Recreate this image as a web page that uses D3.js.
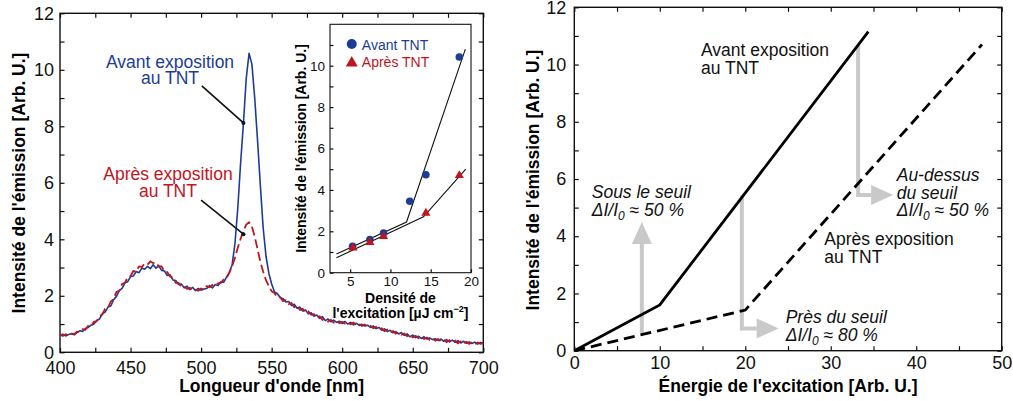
<!DOCTYPE html>
<html><head><meta charset="utf-8">
<script src="https://cdn.jsdelivr.net/npm/d3@7"></script>
<style>
body{margin:0;background:#fff}
svg{display:block}
text{font-family:"Liberation Sans",Arial,Helvetica,sans-serif}
</style></head>
<body><svg width="1013" height="401"></svg>
<script>
// ---------------- DATA ----------------
// Left panel: emission spectra, 400..700 nm every 2 nm
const wavelengths = d3.range(400, 701, 2);
const avantSpectrum = [
  0.60,0.64,0.58,0.63,0.66,0.62,0.70,0.76,0.74,0.84, // 400-418
  0.88,0.96,1.00,1.12,1.18,1.36,1.42,1.60,1.64,1.86, // 420-438
  1.98,2.18,2.26,2.46,2.50,2.68,2.70,2.86,2.82,2.98, // 440-458
  2.94,3.04,2.96,3.10,2.98,3.06,2.90,2.88,2.72,2.74, // 460-478
  2.56,2.54,2.40,2.42,2.28,2.34,2.22,2.30,2.18,2.26, // 480-498
  2.20,2.24,2.26,2.36,2.28,2.40,2.36,2.50,2.48,2.66, // 500-518
  2.82,3.10,3.85,5.10,6.70,8.10,9.70,10.58,10.20,9.00, // 520-538
  7.50,5.90,4.40,3.40,2.80,2.42,2.14,2.08,1.94,1.90, // 540-558
  1.78,1.80,1.66,1.70,1.56,1.60,1.46,1.50,1.36,1.40, // 560-578
  1.28,1.32,1.20,1.26,1.12,1.18,1.08,1.14,1.06,1.10, // 580-598
  1.02,1.09,1.00,1.06,0.97,1.03,0.95,0.99,0.93,0.96, // 600-618
  0.88,0.93,0.84,0.88,0.78,0.83,0.74,0.78,0.69,0.73, // 620-638
  0.65,0.70,0.60,0.65,0.55,0.61,0.52,0.57,0.49,0.55, // 640-658
  0.47,0.51,0.45,0.48,0.42,0.47,0.39,0.45,0.37,0.43, // 660-678
  0.35,0.41,0.33,0.39,0.32,0.37,0.31,0.36,0.29,0.35, // 680-698
  0.32                                               // 700
];
const apresSpectrum = [
  0.63,0.58,0.64,0.60,0.67,0.64,0.73,0.71,0.82,0.80,
  0.94,0.92,1.08,1.10,1.28,1.34,1.54,1.58,1.80,1.88,
  2.14,2.18,2.42,2.46,2.66,2.70,2.88,2.86,3.04,3.02,
  3.14,3.10,3.22,3.16,3.18,3.04,3.04,2.86,2.84,2.68,
  2.64,2.46,2.46,2.32,2.34,2.24,2.28,2.20,2.22,2.18,
  2.26,2.22,2.34,2.30,2.38,2.36,2.44,2.46,2.58,2.62,
  2.82,3.05,3.35,3.70,4.02,4.30,4.52,4.60,4.45,4.10,
  3.65,3.20,2.85,2.55,2.35,2.16,2.10,1.94,1.95,1.82,
  1.84,1.71,1.74,1.60,1.63,1.50,1.54,1.41,1.45,1.33,
  1.35,1.23,1.27,1.15,1.20,1.09,1.15,1.05,1.11,1.03,
  1.08,1.01,1.07,0.99,1.05,0.96,1.01,0.93,0.98,0.90,
  0.94,0.85,0.90,0.80,0.85,0.75,0.80,0.70,0.75,0.66,
  0.71,0.62,0.66,0.57,0.62,0.53,0.58,0.50,0.56,0.47,
  0.52,0.44,0.49,0.41,0.47,0.39,0.45,0.36,0.43,0.34,
  0.41,0.32,0.39,0.31,0.37,0.30,0.36,0.29,0.35,0.30,
  0.32
];
const leftXTicks = [400,450,500,550,600,650,700];
const leftXMinor = d3.range(400, 701, 25);
const leftYTicks = [0,2,4,6,8,10,12];
const leftYMinor = d3.range(0, 13, 1);

// Inset: intensity vs excitation density
const insetAvantX = [5.3, 7.45, 9.15, 12.4, 14.4, 18.55];
const insetAvantY = [1.27, 1.6, 1.92, 3.45, 4.73, 10.42];
const insetApresX = [5.35, 7.45, 9.15, 14.4, 18.55];
const insetApresY = [1.2, 1.47, 1.76, 2.88, 4.7];
const fitAvantX = [3.3, 12.0, 19.3];
const fitAvantY = [0.9, 2.45, 10.8];
const fitApresX = [3.3, 14.1, 19.35];
const fitApresY = [0.72, 2.7, 5.0];
const insetXTicks = [5,10,15,20];
const insetYTicks = [0,2,4,6,8,10];
const insetYMinor = d3.range(0, 12, 1);

// Right panel: schematic
const schemaAvantX = [0, 10, 34.4];
const schemaAvantY = [0, 1.6, 11.15];
const schemaApresX = [0, 20, 47.7];
const schemaApresY = [0, 1.42, 10.7];
const rightXTicks = [0,10,20,30,40,50];
const rightXMinor = d3.range(0, 51, 5);
const rightYTicks = [0,2,4,6,8,10,12];
const rightYMinor = d3.range(0, 13, 1);

// ---------------- SETUP ----------------
const svg = d3.select("svg");
const BLUE = "#1d3d95", RED = "#c0141e", GREY = "#c9c9c9";

const xL = d3.scaleLinear([400,700],[60,483.3]);
const yL = d3.scaleLinear([0,12],[352.3,13.3]);
const xI = d3.scaleLinear([2.5,20],[330,471]);
const yI = d3.scaleLinear([0,12],[272.7,24.3]);
const xR = d3.scaleLinear([0,50],[574.3,1001.7]);
const yR = d3.scaleLinear([0,12],[350.7,7.3]);

function axesFrame(x, y, o){
  const [xa,xb] = x.range(), [yb,ya] = y.range();
  const g = svg.append("g");
  const fmtX = d => o.xMajor.includes(d) ? d : "";
  const fmtY = d => o.yMajor.includes(d) ? d : "";
  const b = g.append("g").attr("transform",`translate(0,${yb})`)
    .call(d3.axisBottom(x).tickValues(o.xMinor).tickSizeInner(-o.tick).tickSizeOuter(0).tickPadding(o.xPad).tickFormat(fmtX));
  const l = g.append("g").attr("transform",`translate(${xa},0)`)
    .call(d3.axisLeft(y).tickValues(o.yMinor).tickSizeInner(-o.tick).tickSizeOuter(0).tickPadding(o.yPad).tickFormat(fmtY));
  const parts=[b,l];
  if(o.mirror){
    parts.push(g.append("g").attr("transform",`translate(0,${ya})`)
      .call(d3.axisTop(x).tickValues(o.xMinor).tickSizeInner(-o.tick).tickSizeOuter(0).tickFormat("")));
    parts.push(g.append("g").attr("transform",`translate(${xb},0)`)
      .call(d3.axisRight(y).tickValues(o.yMinor).tickSizeInner(-o.tick).tickSizeOuter(0).tickFormat("")));
  }
  parts.forEach(p=>{
    p.select(".domain").remove();
    p.selectAll(".tick line").attr("stroke","#111").attr("stroke-width",1.2);
    p.selectAll(".tick text").attr("fill","#111").style("font-size",o.font+"px")
      .style("font-family",'"Liberation Sans",Arial,sans-serif');
  });
  g.append("rect").attr("x",xa).attr("y",ya).attr("width",xb-xa).attr("height",yb-ya)
    .attr("fill","none").attr("stroke","#111").attr("stroke-width",o.frame);
  return g;
}

// ---------------- LEFT PANEL ----------------
axesFrame(xL, yL, {xMajor:leftXTicks,xMinor:leftXMinor,yMajor:leftYTicks,yMinor:leftYMinor,
  tick:4.5,xPad:9,yPad:6,font:18,frame:1.4,mirror:true});

const specLine = (vals) => d3.line().x((d,i)=>xL(wavelengths[i])).y(d=>yL(d))(vals);
svg.append("path").attr("d",specLine(avantSpectrum)).attr("fill","none")
  .attr("stroke",BLUE).attr("stroke-width",1.6).attr("stroke-linejoin","round");
svg.append("path").attr("d",specLine(apresSpectrum)).attr("fill","none")
  .attr("stroke",RED).attr("stroke-width",1.8).attr("stroke-dasharray","9,4");

// annotations
const leftNotes = [
  {lines:["Avant exposition","au TNT"], x:478, y:[10.08,9.49], color:BLUE,
   arrow:{from:[500.5,9.43], to:[530,8.12]}},
  {lines:["Après exposition","au TNT"], x:476.5, y:[6.09,5.48], color:RED,
   arrow:{from:[500,5.39], to:[530,4.18]}}
];
leftNotes.forEach(n=>{
  n.lines.forEach((t,i)=>svg.append("text").attr("x",xL(n.x)).attr("y",yL(n.y[i]))
    .attr("text-anchor","middle").attr("fill",n.color).style("font-size","17.5px").text(t));
  svg.append("line").attr("x1",xL(n.arrow.from[0])).attr("y1",yL(n.arrow.from[1]))
    .attr("x2",xL(n.arrow.to[0])).attr("y2",yL(n.arrow.to[1]))
    .attr("stroke","#111").attr("stroke-width",1.6);
  svg.append("circle").attr("cx",xL(n.arrow.to[0])).attr("cy",yL(n.arrow.to[1])).attr("r",2).attr("fill","#111");
});

svg.append("text").attr("x",(xL.range()[0]+xL.range()[1])/2).attr("y",392)
  .attr("text-anchor","middle").style("font-size","17.5px").style("font-weight","bold")
  .text("Longueur d'onde [nm]");
svg.append("text").attr("transform","translate(25,183) rotate(-90)")
  .attr("text-anchor","middle").style("font-size","17.5px").style("font-weight","bold")
  .text("Intensité de l'émission [Arb. U.]");

// ---------------- INSET ----------------
svg.append("rect").attr("x",xI.range()[0]).attr("y",yI.range()[1])
  .attr("width",xI.range()[1]-xI.range()[0]).attr("height",yI.range()[0]-yI.range()[1]).attr("fill","#fff");
axesFrame(xI, yI, {xMajor:insetXTicks,xMinor:insetXTicks,yMajor:insetYTicks,yMinor:insetYMinor,
  tick:3.5,xPad:4,yPad:5,font:13.5,frame:1.1,mirror:false});

const fitLine = (xs,ys) => d3.line().x((d,i)=>xI(xs[i])).y((d,i)=>yI(ys[i]))(xs);
svg.append("path").attr("d",fitLine(fitAvantX,fitAvantY)).attr("fill","none").attr("stroke","#111").attr("stroke-width",1.1);
svg.append("path").attr("d",fitLine(fitApresX,fitApresY)).attr("fill","none").attr("stroke","#111").attr("stroke-width",1.1);
svg.append("g").selectAll("circle").data(insetAvantX).join("circle")
  .attr("cx",d=>xI(d)).attr("cy",(d,i)=>yI(insetAvantY[i])).attr("r",3.8).attr("fill",BLUE);
const tri = d3.symbol().type(d3.symbolTriangle);
svg.append("g").selectAll("path").data(insetApresX).join("path")
  .attr("transform",(d,i)=>`translate(${xI(d)},${yI(insetApresY[i])})`)
  .attr("d",tri.size(36)()).attr("fill",RED);

// inset legend
svg.append("circle").attr("cx",xI(5.2)).attr("cy",yI(11.05)).attr("r",5).attr("fill",BLUE);
svg.append("text").attr("x",xI(6.45)).attr("y",yI(10.78)).attr("fill",BLUE).style("font-size","14px").text("Avant TNT");
svg.append("path").attr("transform",`translate(${xI(5.2)},${yI(10.13)})`).attr("d",tri.size(62)()).attr("fill",RED);
svg.append("text").attr("x",xI(6.45)).attr("y",yI(9.93)).attr("fill",RED).style("font-size","14px").text("Après TNT");

// inset titles
svg.append("text").attr("transform","translate(305.5,148.5) rotate(-90)")
  .attr("text-anchor","middle").style("font-size","14px").style("font-weight","bold")
  .text("Intensité de l'émission [Arb. U.]");
const ixc = 400.5;
svg.append("text").attr("x",ixc).attr("y",302.5).attr("text-anchor","middle")
  .style("font-size","14px").style("font-weight","bold").text("Densité de");
const t2 = svg.append("text").attr("x",ixc).attr("y",317.5).attr("text-anchor","middle")
  .style("font-size","14px").style("font-weight","bold");
t2.append("tspan").text("l'excitation [µJ cm");
t2.append("tspan").attr("dy",-6).style("font-size","9px").text("−2");
t2.append("tspan").attr("dy",6).text("]");

// ---------------- RIGHT PANEL ----------------
axesFrame(xR, yR, {xMajor:rightXTicks,xMinor:rightXMinor,yMajor:rightYTicks,yMinor:rightYMinor,
  tick:4.5,xPad:6,yPad:8,font:18,frame:1.4,mirror:true});

// grey arrows
const rArrows = [
  [[7.9,0.62],[7.9,4.5]],
  [[19.6,5.42],[19.6,0.78],[23.9,0.78]],
  [[33.2,10.68],[33.2,5.44],[37.3,5.44]]
];
rArrows.forEach(pts=>{
  const p = pts.map(d=>[xR(d[0]),yR(d[1])]);
  const tip = p[p.length-1], prev = p[p.length-2];
  const dx = tip[0]-prev[0], dy = tip[1]-prev[1], len = Math.hypot(dx,dy);
  const ux = dx/len, uy = dy/len, L = 22, W = 10;
  const base = [tip[0]-ux*L, tip[1]-uy*L];
  const shaft = p.slice(0,-1).concat([base]);
  svg.append("path").attr("d",d3.line()(shaft)).attr("fill","none")
    .attr("stroke",GREY).attr("stroke-width",4).attr("stroke-linejoin","miter");
  svg.append("path").attr("d",d3.line()([tip,[base[0]-uy*W,base[1]+ux*W],[base[0]+uy*W,base[1]-ux*W]])+"Z")
    .attr("fill",GREY);
});

const schemaLine = (xs,ys) => d3.line().x((d,i)=>xR(xs[i])).y((d,i)=>yR(ys[i]))(xs);
svg.append("path").attr("d",schemaLine(schemaAvantX,schemaAvantY)).attr("fill","none")
  .attr("stroke","#000").attr("stroke-width",2.8).attr("stroke-linejoin","miter");
svg.append("path").attr("d",schemaLine(schemaApresX,schemaApresY)).attr("fill","none")
  .attr("stroke","#000").attr("stroke-width",2.8).attr("stroke-dasharray","11,6");

// texts
const rightNotes = [
  {lines:["Avant exposition","au TNT"], x:14.82, y:[10.30,9.67], italic:false},
  {lines:["Après exposition","au TNT"], x:29.25, y:[3.69,3.08], italic:false},
  {lines:["Sous le seuil","Δ50"], x:2.04, y:[5.34,4.69], italic:true},
  {lines:["Près du seuil","Δ80"], x:24.73, y:[0.97,0.34], italic:true},
  {lines:["Au-dessus","du seuil","Δ50"], x:37.72, y:[5.93,5.30,4.69], italic:true}
];
rightNotes.forEach(n=>{
  n.lines.forEach((t,i)=>{
    const tx = svg.append("text").attr("x",xR(n.x)).attr("y",yR(n.y[i]))
      .style("font-size","17.5px").style("font-style",n.italic?"italic":"normal").attr("fill","#111");
    if(t.startsWith("Δ")){
      tx.append("tspan").text("ΔI/I");
      tx.append("tspan").attr("dy",4).style("font-size","12px").text("0");
      tx.append("tspan").attr("dy",-4).text(" ≈ " + t.slice(1) + " %");
    } else tx.text(t);
  });
});

svg.append("text").attr("x",(xR.range()[0]+xR.range()[1])/2).attr("y",392)
  .attr("text-anchor","middle").style("font-size","17.5px").style("font-weight","bold")
  .text("Énergie de l'excitation [Arb. U.]");
svg.append("text").attr("transform","translate(539,180) rotate(-90)")
  .attr("text-anchor","middle").style("font-size","17.5px").style("font-weight","bold")
  .text("Intensité de l'émission [Arb. U.]");
</script>
</body></html>
